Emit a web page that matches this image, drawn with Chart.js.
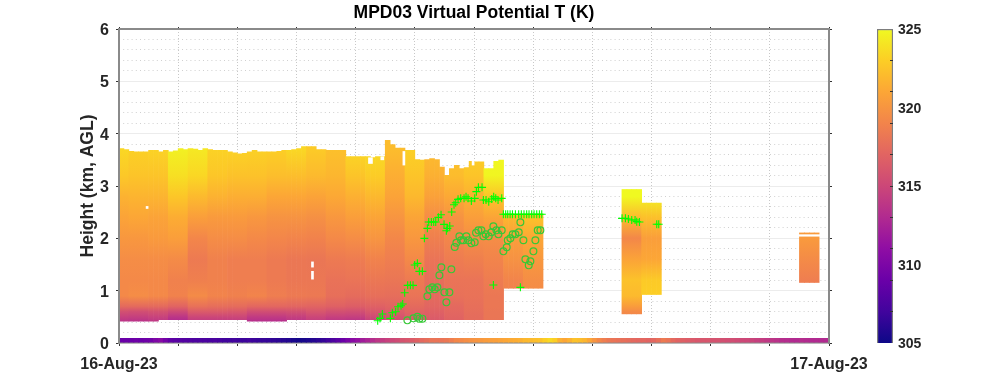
<!DOCTYPE html>
<html>
<head>
<meta charset="utf-8">
<title>MPD03 Virtual Potential T (K)</title>
<script src="https://cdn.jsdelivr.net/npm/chart.js@4"></script>
<style>
    html, body { margin: 0; padding: 0; background: #fff; }
    #wrap { position: relative; width: 1000px; height: 385px; overflow: hidden; }
    #mainChart { position: absolute; left: 0; top: 0; }
    #barChart { position: absolute; left: 830px; top: 0; }
</style>
</head>
<body>
<div id="wrap">
    <canvas id="mainChart" width="1000" height="385"></canvas>
    <canvas id="barChart" width="170" height="385"></canvas>
</div>
<script>
// ================================
// Data
// ================================
const xTickValues = [0, 24];
const xTickLabels = ['16-Aug-23', '17-Aug-23'];
const colorbarLabels = [305, 310, 315, 320, 325];
const colorbarMinorTicks = [307, 309, 311, 313, 315, 317, 319, 321, 323];

// 10 minute columns that hold data
const columnIds = [
    0, 1, 2, 3, 4, 5, 6, 7, 8, 9, 10, 11, 12, 13, 14, 15, 16, 17, 18, 19, 20, 21,
    22, 23, 24, 25, 26, 27, 28, 29, 30, 31, 32, 33, 34, 35, 36, 37, 38, 39, 40, 41,
    42, 43, 44, 45, 46, 47, 48, 49, 50, 51, 52, 53, 54, 55, 56, 57, 58, 59, 60, 61,
    62, 63, 64, 65, 66, 67, 68, 69, 70, 71, 72, 73, 74, 75, 76, 77, 78, 79, 80, 81,
    82, 83, 84, 85, 102, 103, 104, 105, 106, 107, 108, 109, 138, 139, 140, 141
];
const columnTops = [
    3.72, 3.70, 3.67, 3.66, 3.66, 3.66, 3.69, 3.69, 3.66, 3.69, 3.66, 3.68, 3.72, 3.70, 3.72, 3.71, 3.69, 3.72, 3.70, 3.69, 3.69, 3.69,
    3.66, 3.64, 3.62, 3.63, 3.66, 3.69, 3.66, 3.66, 3.66, 3.66, 3.67, 3.69, 3.69, 3.70, 3.72, 3.76, 3.76, 3.76, 3.70, 3.70,
    3.69, 3.69, 3.69, 3.69, 3.57, 3.57, 3.57, 3.57, 3.57, 3.55, 3.57, 3.57, 3.88, 3.80, 3.73, 3.73, 3.69, 3.69, 3.51, 3.50,
    3.51, 3.53, 3.51, 3.37, 3.21, 3.34, 3.40, 3.34, 3.36, 3.48, 3.47, 3.47, 3.34, 3.34, 3.48, 3.50, 2.47, 2.47, 2.47, 2.47,
    2.47, 2.47, 2.47, 2.47, 2.94, 2.94, 2.94, 2.94, 2.68, 2.68, 2.68, 2.68, 2.11, 2.11, 2.11, 2.11
];
const columnBases = [
    0.41, 0.41, 0.41, 0.41, 0.41, 0.41, 0.41, 0.41, 0.44, 0.44, 0.44, 0.44, 0.44, 0.44, 0.44, 0.44, 0.44, 0.44, 0.44, 0.44, 0.44, 0.44,
    0.44, 0.44, 0.44, 0.44, 0.41, 0.41, 0.41, 0.41, 0.41, 0.41, 0.41, 0.41, 0.44, 0.44, 0.44, 0.44, 0.44, 0.44, 0.44, 0.44,
    0.44, 0.44, 0.44, 0.44, 0.44, 0.44, 0.44, 0.44, 0.44, 0.44, 0.44, 0.44, 0.44, 0.44, 0.44, 0.44, 0.44, 0.44, 0.44, 0.44,
    0.44, 0.44, 0.44, 0.44, 0.44, 0.44, 0.44, 0.44, 0.44, 0.44, 0.44, 0.44, 0.44, 0.44, 0.44, 0.44, 1.04, 1.04, 1.04, 1.04,
    1.04, 1.04, 1.04, 1.04, 0.55, 0.55, 0.55, 0.55, 0.92, 0.92, 0.92, 0.92, 1.15, 1.15, 1.15, 1.15
];

// temperature profiles, one row per 40 minute block
const profileLevels = [0.4, 0.5, 0.6, 0.7, 0.9, 1.2, 1.6, 2.0, 2.4, 2.8, 3.2, 3.7];
const profileBlocks = [0, 1, 2, 3, 4, 5, 6, 7, 8, 9, 10, 11, 12, 13, 14, 15, 16, 17, 18, 19, 20, 21, 26, 27, 35];
const profiles = [
    [313.6, 314.6, 315.6, 317.4, 319.3, 319.3, 319.5, 320.1, 320.8, 321.6, 322.7, 323.4],
    [313.5, 314.5, 315.5, 317.4, 319.5, 319.3, 319.5, 320.1, 321.0, 321.7, 322.5, 323.1],
    [313.8, 314.7, 315.7, 317.4, 319.3, 319.3, 319.5, 320.3, 320.8, 321.7, 322.5, 323.2],
    [312.8, 313.8, 315.2, 317.0, 318.9, 318.8, 319.4, 320.5, 321.3, 322.6, 323.8, 324.6],
    [314.0, 315.0, 316.4, 317.8, 319.4, 318.7, 318.4, 319.1, 320.5, 322.0, 323.4, 324.2],
    [314.0, 315.0, 316.4, 317.6, 319.0, 318.8, 318.8, 319.5, 320.3, 321.6, 322.6, 323.2],
    [314.0, 315.0, 316.2, 317.5, 318.8, 318.6, 318.6, 319.5, 320.3, 321.4, 322.4, 323.2],
    [313.2, 314.2, 315.5, 317.2, 319.0, 318.6, 318.6, 319.3, 320.1, 321.4, 322.4, 323.1],
    [313.2, 314.2, 315.5, 317.2, 318.6, 318.4, 318.4, 319.1, 319.9, 321.0, 322.2, 323.0],
    [313.6, 314.5, 315.6, 317.1, 318.4, 318.2, 318.2, 319.0, 319.9, 321.0, 322.2, 323.4],
    [314.2, 315.0, 316.0, 317.0, 318.3, 318.2, 318.1, 318.9, 319.7, 320.8, 322.0, 322.8],
    [313.6, 314.6, 315.6, 316.8, 317.7, 317.9, 318.4, 319.3, 320.1, 321.1, 321.8, 322.3],
    [313.4, 314.5, 315.5, 316.6, 317.5, 318.0, 318.5, 319.5, 320.5, 321.5, 322.5, 323.4],
    [314.3, 315.3, 316.1, 316.8, 317.7, 318.2, 318.9, 320.0, 320.9, 321.9, 322.9, 323.6],
    [315.3, 315.9, 316.5, 317.0, 317.6, 318.1, 318.6, 319.2, 320.0, 320.8, 321.4, 322.1],
    [316.0, 316.5, 317.0, 317.4, 318.0, 318.4, 319.3, 320.1, 320.9, 321.9, 322.5, 323.1],
    [316.2, 316.5, 316.8, 317.1, 317.4, 317.6, 318.0, 318.7, 319.5, 320.7, 321.5, 322.1],
    [316.8, 317.0, 317.2, 317.3, 317.8, 318.0, 318.5, 319.1, 319.9, 321.1, 322.1, 322.5],
    [317.5, 317.5, 317.6, 317.7, 317.9, 318.0, 318.7, 319.5, 320.5, 321.5, 322.5, 323.1],
    [318.0, 318.1, 318.1, 318.2, 318.2, 318.5, 319.0, 319.5, 320.9, 322.5, 324.8, 325.0],
    [null, null, null, null, 318.8, 319.0, 319.8, 320.5, 321.8, null, null, null],
    [null, null, null, null, 319.4, 319.6, 320.2, 321.0, 322.4, null, null, null],
    [319.0, 319.0, 319.4, 320.4, 322.0, 322.4, 320.8, 319.2, 322.0, 325.0, 325.0, null],
    [null, null, null, null, 323.0, 322.8, 321.0, 320.5, 322.3, 324.6, null, null],
    [null, null, null, null, 318.4, 318.6, 319.4, 320.3, 320.6, null, null, null]
];

// surface temperature, one value per 10 minute column
const surfaceTop = 0.0955;
const surfaceTheta = [
    309.0, 309.0, 309.0, 309.2, 309.0, 309.2, 309.3, 310.0, 310.5, 309.5, 308.5, 308.2,
    308.0, 307.9, 307.8, 307.6, 307.6, 307.5, 307.4, 307.5, 307.3, 307.0, 307.0, 307.1,
    306.9, 306.8, 307.0, 306.8, 306.6, 306.6, 306.5, 306.4, 306.2, 306.0, 305.8, 305.5,
    305.3, 305.4, 305.6, 305.9, 306.2, 306.5, 307.0, 307.6, 308.2, 309.0, 309.8, 310.7,
    311.3, 312.0, 312.6, 313.2, 313.8, 314.2, 314.6, 315.0, 315.3, 315.8, 316.0, 316.4,
    316.8, 317.3, 317.6, 318.0, 318.0, 318.0, 318.2, 318.6, 319.2, 319.3, 319.6, 319.8,
    320.0, 320.2, 320.4, 320.5, 320.6, 320.8, 321.0, 321.2, 321.3, 321.5, 321.9, 322.0,
    322.2, 322.4, 323.0, 323.5, 323.0, 321.5, 321.0, 321.6, 322.4, 322.2, 321.8, 321.0,
    320.0, 319.2, 318.6, 318.2, 318.0, 317.8, 317.7, 317.5, 317.3, 317.2, 317.2, 317.0,
    317.2, 317.7, 318.4, 318.0, 317.3, 316.9, 316.7, 316.5, 316.3, 316.1, 316.0, 316.0,
    315.8, 315.8, 315.6, 315.5, 315.5, 315.3, 315.1, 315.0, 314.8, 314.5, 314.3, 314.0,
    313.8, 313.6, 313.3, 313.2, 313.1, 313.0, 313.2, 313.1, 313.0, 313.0, 313.0, 313.0
];

// small gaps in the retrieval: hour, low km, high km
const gapHours = [0.95, 6.54, 6.54, 8.5, 8.9, 9.63, 11.76, 11.97, 23.33];
const gapLows = [2.57, 1.45, 1.22, 3.43, 3.50, 3.40, 3.38, 3.40, 2.04];
const gapHighs = [2.61, 1.55, 1.37, 3.54, 3.56, 3.66, 3.52, 3.50, 2.07];
const gapWidths = [2, 2, 2, 4, 3, 2, 2, 2, 22];

// green + markers
const plusHours = [
    8.745, 8.824, 8.902, 9.173, 9.24, 9.353, 9.432, 9.533, 9.59, 9.657, 9.759, 9.849, 9.939, 9.995, 10.086, 10.153, 10.255,
    10.322, 10.424, 10.469, 10.559, 10.638, 10.706, 10.796, 10.886, 10.987, 11.066, 11.1, 11.179, 11.246, 11.325, 11.382,
    11.461, 11.551, 11.664, 11.731, 11.799, 11.911, 12.024, 12.081, 12.148, 12.272, 12.317, 12.407, 12.498, 12.599, 12.666,
    12.734, 12.813, 12.937, 12.993, 13.07, 13.14, 13.22, 13.3, 13.4, 13.51, 13.6, 13.69, 13.78, 13.86, 13.95, 14.03, 14.12,
    14.21, 14.29, 12.655, 13.568, 17.005, 17.118, 17.219, 17.332, 17.444, 17.501, 17.591, 18.177, 18.244
];
const plusHeights = [
    0.426, 0.471, 0.554, 0.471, 0.579, 0.598, 0.694, 0.713, 0.745, 0.961, 1.102, 1.102, 1.102, 1.49, 1.522, 1.369, 1.369,
    2.0, 2.191, 2.312, 2.312, 2.312, 2.312, 2.401, 2.452, 2.267, 2.146, 2.191, 2.235, 2.503, 2.643, 2.681,
    2.745, 2.764, 2.764, 2.796, 2.764, 2.713, 2.764, 2.892, 2.974, 2.974, 2.732, 2.732, 2.7, 2.751, 2.796,
    2.764, 2.732, 2.764, 2.459, 2.459, 2.459, 2.459, 2.459, 2.459, 2.459, 2.459, 2.459, 2.459, 2.459, 2.459, 2.459, 2.459,
    2.459, 2.459, 1.108, 1.063, 2.382, 2.382, 2.37, 2.35, 2.35, 2.319, 2.312, 2.268, 2.268
];

// green o markers
const circleHours = [
    9.748, 9.951, 10.086, 10.153, 10.255, 10.424, 10.491, 10.593, 10.672, 10.762, 10.999, 11.168, 11.066, 10.83, 10.897, 11.235,
    11.348, 11.404, 11.506, 11.562, 11.641, 11.742, 11.81, 11.911, 12.024, 12.069, 12.148, 12.25, 12.317, 12.396, 12.498, 12.588,
    12.655, 12.757, 12.824, 12.937, 12.993, 13.106, 13.14, 13.23, 13.309, 13.399, 13.512, 13.568, 13.67, 13.737, 13.85, 13.906,
    14.008, 14.075, 14.154, 14.244
];
const circleHeights = [
    0.433, 0.471, 0.503, 0.465, 0.465, 0.891, 1.025, 1.063, 1.025, 1.063, 0.968, 0.968, 0.777, 1.293, 1.446, 1.407,
    1.834, 1.917, 2.038, 1.962, 1.962, 2.038, 1.962, 1.904, 1.923, 2.108, 2.153, 2.153, 2.038, 2.076, 2.038, 2.114,
    2.229, 2.153, 2.076, 2.153, 1.751, 1.828, 1.962, 2.0, 2.076, 2.076, 2.114, 2.305, 1.962, 1.598, 1.484, 1.56,
    1.751, 1.962, 2.153, 2.153
];

// ================================
// Colour map (305 K to 325 K)
// ================================
const thetaMin = 305;
const thetaMax = 325;
const plasmaStops = [
    [13, 8, 135], [65, 4, 157], [106, 0, 168], [143, 13, 164], [177, 42, 144], [204, 71, 120],
    [225, 100, 98], [242, 132, 75], [252, 166, 54], [252, 206, 37], [240, 249, 33]
];

function thetaColor(value) {
    const t = Math.min(1, Math.max(0, (value - thetaMin) / (thetaMax - thetaMin))) * (plasmaStops.length - 1);
    const i = Math.min(plasmaStops.length - 2, Math.floor(t));
    const f = t - i;
    const rgb = plasmaStops[i].map((c, k) => Math.round(c + (plasmaStops[i + 1][k] - c) * f));
    return `rgb(${rgb[0]}, ${rgb[1]}, ${rgb[2]})`;
}

// ================================
// Shared styling
// ================================
const textColor = '#262626';
const frameColor = '#8a8a8a';
const tickColor = '#333333';
const fontFamily = '"Liberation Sans", Arial, sans-serif';
const labelFont = { family: fontFamily, size: 16, weight: 'bold' };
const columnHour = id => (id + 0.5) / 6;
// empty first line + short line height nudges the number down onto its tick
const nudgedLabel = v => ['', String(v)];

// vertical gradient of one block, built through the y scale
const blockGradients = {};
function blockGradient(chart, block) {
    if (!chart.chartArea) return '#ffffff'; // scales not laid out yet
    if (blockGradients[block]) return blockGradients[block];
    const y = chart.scales.y;
    const first = y.getPixelForValue(profileLevels[0]);
    const last = y.getPixelForValue(profileLevels[profileLevels.length - 1]);
    const gradient = chart.ctx.createLinearGradient(0, first, 0, last);
    const row = profiles[profileBlocks.indexOf(block)];
    row.forEach((value, i) => {
        if (value === null) return;
        const pos = (profileLevels[i] - profileLevels[0]) / (profileLevels[profileLevels.length - 1] - profileLevels[0]);
        gradient.addColorStop(pos, thetaColor(value));
    });
    blockGradients[block] = gradient;
    return gradient;
}

// ================================
// Main chart
// ================================
const heatPoints = columnIds.map((id, i) => ({
    x: columnHour(id),
    y: [columnBases[i], columnTops[i]],
    block: Math.floor((id + 2) / 4)
}));
const surfacePoints = surfaceTheta.map((value, id) => ({ x: columnHour(id), y: [0, surfaceTop], theta: value }));

const gapDatasets = gapHours.map((hour, i) => ({
    type: 'bar',
    data: [{ x: hour, y: [gapLows[i], gapHighs[i]] }],
    backgroundColor: '#ffffff',
    barThickness: gapWidths[i],
    grouped: false,
    order: 1
}));

new Chart(document.getElementById('mainChart'), {
    type: 'bar',
    data: {
        datasets: [
            {
                type: 'scatter',
                data: plusHours.map((h, i) => ({ x: h, y: plusHeights[i] })),
                pointStyle: 'cross',
                pointRadius: 4,
                pointBorderWidth: 1.1,
                pointBorderColor: '#00ff00',
                order: 0
            },
            {
                type: 'scatter',
                data: circleHours.map((h, i) => ({ x: h, y: circleHeights[i] })),
                pointStyle: 'circle',
                pointRadius: 3.4,
                pointBorderWidth: 1.2,
                pointBorderColor: '#35c935',
                pointBackgroundColor: 'rgba(0,0,0,0)',
                order: 0
            },
            ...gapDatasets,
            {
                data: heatPoints,
                backgroundColor: ctx => (ctx.raw ? blockGradient(ctx.chart, ctx.raw.block) : '#ffffff'),
                barThickness: 5.6,
                inflateAmount: 0,
                grouped: false,
                order: 2
            },
            {
                data: surfacePoints,
                backgroundColor: ctx => (ctx.raw ? thetaColor(ctx.raw.theta) : '#ffffff'),
                barThickness: 6,
                inflateAmount: 0,
                grouped: false,
                order: 2
            }
        ]
    },
    options: {
        responsive: false,
        animation: false,
        events: [],
        layout: { padding: 0 },
        plugins: {
            legend: { display: false },
            tooltip: { enabled: false },
            title: {
                display: true,
                text: 'MPD03 Virtual Potential T (K)',
                fullSize: false,
                color: '#000000',
                font: { family: fontFamily, size: 17.5, weight: 'bold' },
                padding: { top: 3, bottom: 2 }
            }
        },
        scales: {
            x: {
                type: 'linear',
                position: 'bottom',
                min: 0,
                max: 24,
                offset: false,
                afterFit: s => { s.height = 42; },
                border: { color: frameColor, width: 1.5, dash: [1, 2] },
                grid: { offset: false, color: '#c8c8c8', tickColor: tickColor, tickLength: 3, lineWidth: 1 },
                ticks: {
                    stepSize: 2,
                    autoSkip: false,
                    maxRotation: 0,
                    padding: 9,
                    color: textColor,
                    font: labelFont,
                    callback: v => (xTickValues.includes(v) ? xTickLabels[xTickValues.indexOf(v)] : '')
                }
            },
            xTop: {
                type: 'linear',
                position: 'top',
                min: 0,
                max: 24,
                offset: false,
                afterFit: s => { s.height = 3; },
                border: { color: frameColor, width: 2, z: 1 },
                grid: { display: true, drawOnChartArea: false, offset: false, tickColor: tickColor, tickLength: 2 },
                ticks: { stepSize: 2, display: false }
            },
            y: {
                position: 'left',
                min: 0,
                max: 6,
                afterFit: s => { s.width = 119; },
                border: { color: frameColor, width: 2, z: 1 },
                grid: { color: '#ececec', tickColor: tickColor, tickLength: 3, lineWidth: 1 },
                ticks: {
                    stepSize: 1,
                    padding: 7,
                    color: textColor,
                    font: { family: fontFamily, size: 16, weight: 'bold', lineHeight: '3px' },
                    callback: nudgedLabel
                },
                title: {
                    display: true,
                    text: 'Height (km, AGL)',
                    color: textColor,
                    font: { family: fontFamily, size: 17.5, weight: 'bold' },
                    padding: { top: 78, bottom: 0 }
                }
            },
            yMinor: {
                position: 'left',
                min: 0,
                max: 6,
                afterFit: s => { s.width = 0; },
                border: { display: false, dash: [1, 3.2] },
                grid: {
                    drawTicks: false,
                    lineWidth: 1,
                    color: ctx => (Math.abs(ctx.tick.value - Math.round(ctx.tick.value)) < 0.01 ? 'rgba(0,0,0,0)' : '#d0d0d0')
                },
                ticks: { stepSize: 0.2, display: false }
            },
            yRight: {
                position: 'right',
                min: 0,
                max: 6,
                afterFit: s => { s.width = 171; },
                border: { color: frameColor, width: 2, z: 1 },
                grid: { drawOnChartArea: false, tickColor: tickColor, tickLength: 3 },
                ticks: { stepSize: 1, display: false }
            }
        }
    }
});

// ================================
// Colour bar
// ================================
new Chart(document.getElementById('barChart'), {
    type: 'bar',
    data: {
        labels: ['theta'],
        datasets: [{
            data: [[thetaMin, thetaMax]],
            backgroundColor: ctx => {
                if (!ctx.chart.chartArea) return '#ffffff';
                const y = ctx.chart.scales.y;
                const gradient = ctx.chart.ctx.createLinearGradient(0, y.getPixelForValue(thetaMin), 0, y.getPixelForValue(thetaMax));
                plasmaStops.forEach((c, i) => gradient.addColorStop(i / (plasmaStops.length - 1), `rgb(${c[0]}, ${c[1]}, ${c[2]})`));
                return gradient;
            },
            borderColor: '#7d7d7d',
            borderWidth: 1.5,
            barPercentage: 1,
            categoryPercentage: 1
        }]
    },
    options: {
        responsive: false,
        animation: false,
        events: [],
        layout: { padding: { left: 47, top: 29, bottom: 42 } },
        plugins: { legend: { display: false }, tooltip: { enabled: false }, title: { display: false } },
        scales: {
            x: { display: false },
            y: {
                position: 'right',
                weight: 1,
                min: thetaMin,
                max: thetaMax,
                afterFit: s => { s.width = 107; },
                afterBuildTicks: s => { s.ticks = colorbarLabels.map(v => ({ value: v })); },
                border: { display: false },
                grid: { display: false, drawTicks: false },
                ticks: {
                    padding: 5,
                    color: textColor,
                    font: { family: fontFamily, size: 14, weight: 'bold', lineHeight: '3px' },
                    callback: nudgedLabel
                }
            },
            yTicks: {
                position: 'right',
                weight: 0,
                min: thetaMin,
                max: thetaMax,
                afterFit: s => { s.width = 0; },
                afterBuildTicks: s => { s.ticks = colorbarMinorTicks.map(v => ({ value: v })); },
                border: { display: false },
                grid: { z: 1, drawOnChartArea: false, tickColor: tickColor, tickLength: -3 },
                ticks: { display: false }
            }
        }
    }
});
</script>
</body>
</html>
